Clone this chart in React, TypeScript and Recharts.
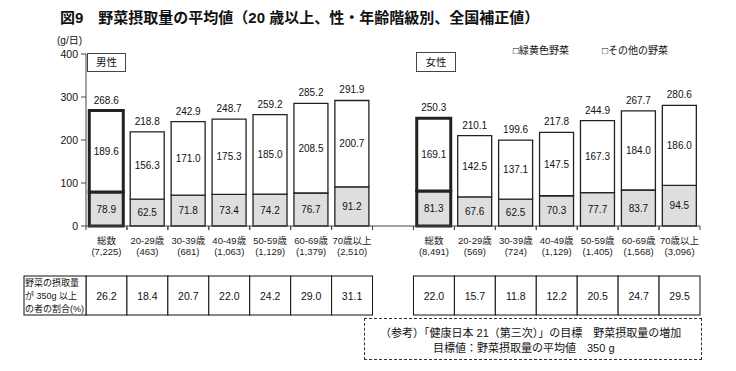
import React from "react";
import { BarChart, Bar, XAxis, YAxis, Cell, LabelList } from "recharts";

// Age groups and respondent counts
const ageGroups = ["総数", "20-29歳", "30-39歳", "40-49歳", "50-59歳", "60-69歳", "70歳以上"];
const maleCounts = ["(7,225)", "(463)", "(681)", "(1,063)", "(1,129)", "(1,379)", "(2,510)"];
const femaleCounts = ["(8,491)", "(569)", "(724)", "(1,129)", "(1,405)", "(1,568)", "(3,096)"];

// Mean intake (g/day)
const maleGreenYellow = [78.9, 62.5, 71.8, 73.4, 74.2, 76.7, 91.2];
const maleOther = [189.6, 156.3, 171.0, 175.3, 185.0, 208.5, 200.7];
const maleTotal = [268.6, 218.8, 242.9, 248.7, 259.2, 285.2, 291.9];
const femaleGreenYellow = [81.3, 67.6, 62.5, 70.3, 77.7, 83.7, 94.5];
const femaleOther = [169.1, 142.5, 137.1, 147.5, 167.3, 184.0, 186.0];
const femaleTotal = [250.3, 210.1, 199.6, 217.8, 244.9, 267.7, 280.6];

// Share of people eating 350 g or more (%)
const maleOver350 = [26.2, 18.4, 20.7, 22.0, 24.2, 29.0, 31.1];
const femaleOver350 = [22.0, 15.7, 11.8, 12.2, 20.5, 24.7, 29.5];

const yTicks = [0, 100, 200, 300, 400];

type Row = {
  key: string;
  label?: string;
  count?: string;
  gy?: number;
  other?: number;
  total?: number;
  share?: number;
  isAll?: boolean;
};

const rows: Row[] = [
  ...ageGroups.map((g, i) => ({
    key: "m" + i,
    label: g,
    count: maleCounts[i],
    gy: maleGreenYellow[i],
    other: maleOther[i],
    total: maleTotal[i],
    share: maleOver350[i],
    isAll: i === 0,
  })),
  { key: "gap" },
  ...ageGroups.map((g, i) => ({
    key: "f" + i,
    label: g,
    count: femaleCounts[i],
    gy: femaleGreenYellow[i],
    other: femaleOther[i],
    total: femaleTotal[i],
    share: femaleOver350[i],
    isAll: i === 0,
  })),
];

const FONT = "'Liberation Sans', 'Noto Sans CJK JP', sans-serif";
const W = 736;
const H = 371;
const MARGIN = { top: 54, right: 36, bottom: 0, left: 0 };
const Y_AXIS_W = 86;
const PLOT_W = W - MARGIN.left - MARGIN.right - Y_AXIS_W;
const CAT_W = PLOT_W / rows.length;

const fmt = (v: any) => (v == null || v === "" ? "" : Number(v).toFixed(1));

// X-axis tick: two-line category label, boundary tick marks, and the
// matching cell of the 350 g table beneath the chart.
const AxisTick = (props: any) => {
  const { x, y, payload } = props;
  const idx = rows.findIndex((r) => r.key === payload.value);
  const r = rows[idx];
  const half = CAT_W / 2;
  const tableTop = y + 50;
  const tableH = 39;
  const marks = (
    <g stroke="#444" strokeWidth={1}>
      <line x1={x - half} x2={x - half} y1={y} y2={y + 4} />
      <line x1={x + half} x2={x + half} y1={y} y2={y + 4} />
    </g>
  );
  if (!r || r.key === "gap") return marks;
  return (
    <g fontFamily={FONT}>
      {marks}
      <text x={x} y={y + 14} textAnchor="middle" dominantBaseline="central" fontSize={9.5} fill="#222">
        {r.label}
      </text>
      <text x={x} y={y + 25} textAnchor="middle" dominantBaseline="central" fontSize={9.5} fill="#222">
        {r.count}
      </text>
      <rect x={x - half} y={tableTop} width={CAT_W} height={tableH} fill="#fff" stroke="#111" strokeWidth={1} />
      <text x={x} y={tableTop + tableH / 2} textAnchor="middle" dominantBaseline="central" fontSize={10.5} fill="#111">
        {fmt(r.share)}
      </text>
      {r.key === "m0" && (
        <g>
          <rect x={x - half - 62} y={tableTop} width={62} height={tableH} fill="#fff" stroke="#111" strokeWidth={1} />
          {["野菜の摂取量", "が 350g 以上", "の者の割合(%)"].map((t, k) => (
            <text key={k} x={x - half - 61} y={tableTop + 7 + k * 13} dominantBaseline="central" fontSize={9} fill="#111">
              {t}
            </text>
          ))}
        </g>
      )}
    </g>
  );
};

const abs = (style: React.CSSProperties): React.CSSProperties => ({
  position: "absolute",
  fontFamily: FONT,
  color: "#111",
  whiteSpace: "nowrap",
  ...style,
});

const labelStyle = { fontSize: 10, fill: "#111", fontFamily: FONT };

export default function App() {
  return (
    <div style={{ position: "absolute", left: 0, top: 0, width: W, height: H, background: "#fff", overflow: "hidden" }}>
      <BarChart
        width={W}
        height={H}
        data={rows}
        margin={MARGIN}
        barCategoryGap="8%"
        style={{ fontFamily: FONT }}
      >
        <YAxis
          width={Y_AXIS_W}
          domain={[0, 400]}
          ticks={yTicks}
          tickSize={5}
          tickMargin={3}
          tick={{ fontSize: 10.5, fill: "#111" }}
          stroke="#444"
          interval={0}
        />
        <XAxis
          dataKey="key"
          height={145}
          interval={0}
          tickLine={false}
          tickSize={0}
          tickMargin={0}
          stroke="#444"
          tick={<AxisTick />}
        />
        <Bar dataKey="gy" stackId="v" fill="#dedede" stroke="#222" isAnimationActive={false}>
          {rows.map((r) => (
            <Cell key={r.key} strokeWidth={r.isAll ? 3 : 1.3} />
          ))}
          <LabelList dataKey="gy" position="center" formatter={fmt} style={labelStyle} />
        </Bar>
        <Bar dataKey="other" stackId="v" fill="#ffffff" stroke="#222" isAnimationActive={false}>
          {rows.map((r) => (
            <Cell key={r.key} strokeWidth={r.isAll ? 3 : 1.3} />
          ))}
          <LabelList dataKey="other" position="center" formatter={fmt} style={labelStyle} />
          <LabelList dataKey="total" position="top" offset={7} formatter={fmt} style={labelStyle} />
        </Bar>
      </BarChart>

      <div style={abs({ left: 60, top: 6, fontSize: 15, fontWeight: 700 })}>
        図9　野菜摂取量の平均値（20 歳以上、性・年齢階級別、全国補正値）
      </div>
      <div style={abs({ left: 57, top: 35, fontSize: 10, lineHeight: "11px" })}>(g/日)</div>

      <div style={abs({ left: 87, top: 53, width: 39, height: 19, border: "1px solid #444", boxSizing: "border-box", background: "#fff", fontSize: 10.5, textAlign: "center", lineHeight: "17px" })}>
        男性
      </div>
      <div style={abs({ left: 416, top: 52, width: 40, height: 20, border: "1px solid #444", boxSizing: "border-box", background: "#fff", fontSize: 10.5, textAlign: "center", lineHeight: "18px" })}>
        女性
      </div>

      <div style={abs({ left: 513, top: 42, fontSize: 10 })}>□緑黄色野菜</div>
      <div style={abs({ left: 602, top: 42, fontSize: 10 })}>□その他の野菜</div>

      <div style={abs({ left: 364, top: 318, width: 338, height: 42, border: "1px dashed #333", boxSizing: "border-box" })} />
      <div style={abs({ left: 380, top: 324, fontSize: 11 })}>（参考）「健康日本 21（第三次）」の目標　野菜摂取量の増加</div>
      <div style={abs({ left: 433, top: 339, fontSize: 11 })}>目標値：野菜摂取量の平均値　350 g</div>
    </div>
  );
}
